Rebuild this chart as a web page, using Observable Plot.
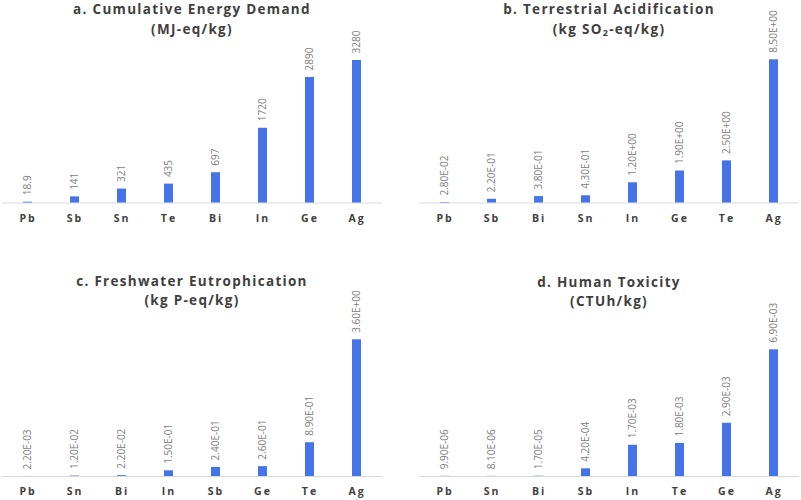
<!DOCTYPE html>
<html><head><meta charset="utf-8">
<script src="https://cdn.jsdelivr.net/npm/d3@7"></script>
<script src="https://cdn.jsdelivr.net/npm/@observablehq/plot@0.6"></script>
<style>
body{margin:0;background:#fff;}
#chart{position:relative;width:801px;height:500px;background:#fff;font-family:"Open Sans",sans-serif;overflow:hidden;}
.panel{position:absolute;width:384px;height:250px;}
.panel svg{position:absolute;left:0;top:0;}
.title{position:absolute;left:0;width:100%;text-align:center;font-weight:700;font-size:13.5px;letter-spacing:1.3px;color:#404040;line-height:19px;white-space:nowrap;}
.title sub{font-size:9px;vertical-align:-2px;line-height:0;}
g[aria-label="x-axis tick label"] text{letter-spacing:2px;font-weight:700;}
</style></head><body><div id="chart"></div>
<script>
// Panel a: Cumulative Energy Demand (MJ-eq/kg)
const catsA = ["Pb", "Sb", "Sn", "Te", "Bi", "In", "Ge", "Ag"];
const valuesA = [18.9, 141, 321, 435, 697, 1720, 2890, 3280];
// Panel b: Terrestrial Acidification (kg SO2-eq/kg)
const catsB = ["Pb", "Sb", "Bi", "Sn", "In", "Ge", "Te", "Ag"];
const valuesB = [0.028, 0.22, 0.38, 0.43, 1.2, 1.9, 2.5, 8.5];
// Panel c: Freshwater Eutrophication (kg P-eq/kg)
const catsC = ["Pb", "Sn", "Bi", "In", "Sb", "Ge", "Te", "Ag"];
const valuesC = [0.0022, 0.012, 0.022, 0.15, 0.24, 0.26, 0.89, 3.6];
// Panel d: Human Toxicity (CTUh/kg)
const catsD = ["Pb", "Sn", "Bi", "Sb", "In", "Te", "Ge", "Ag"];
const valuesD = [9.9e-6, 8.1e-6, 1.7e-5, 4.2e-4, 1.7e-3, 1.8e-3, 2.9e-3, 6.9e-3];

const titlesL1 = ["a. Cumulative Energy Demand", "b. Terrestrial Acidification", "c. Freshwater Eutrophication", "d. Human Toxicity"];
const titlesL2 = ["(MJ-eq/kg)", "(kg SO<sub>2</sub>-eq/kg)", "(kg P-eq/kg)", "(CTUh/kg)"];

const plain = v => String(v);
const sci = v => {
  const [m, e] = v.toExponential(2).toUpperCase().split("E");
  const n = +e;
  return m + "E" + (n < 0 ? "-" : "+") + String(Math.abs(n)).padStart(2, "0");
};

// layout per panel (positions only)
const panels = [
  {cats: catsA, values: valuesA, fmt: plain, left: 0,   top: 0,   mt: 60,   mb: 47.5, tTop: 0},
  {cats: catsB, values: valuesB, fmt: sci,   left: 417, top: 0,   mt: 59.3, mb: 47.5, tTop: 0},
  {cats: catsC, values: valuesC, fmt: sci,   left: 0,   top: 250, mt: 89.3, mb: 24,   tTop: 21.5},
  {cats: catsD, values: valuesD, fmt: sci,   left: 417, top: 250, mt: 99.3, mb: 24,   tTop: 22.7}
];

const chart = document.getElementById("chart");
panels.forEach((p, k) => {
  const data = p.cats.map((c, i) => ({cat: c, value: p.values[i], label: p.fmt(p.values[i])}));
  const svg = Plot.plot({
    width: 384, height: 250,
    marginLeft: 2, marginRight: 2, marginTop: p.mt, marginBottom: p.mb,
    style: {fontFamily: '"Open Sans", sans-serif', background: "transparent", overflow: "visible"},
    x: {domain: p.cats, paddingInner: 0.81, paddingOuter: 0.405, label: null, axis: null},
    y: {domain: [0, d3.max(p.values)], axis: null},
    marks: [
      Plot.ruleY([0], {stroke: "#d9d9d9", strokeWidth: 1}),
      Plot.barY(data, {x: "cat", y: "value", fill: "#4574e8"}),
      Plot.text(data, {x: "cat", y: "value", text: "label", rotate: -90, textAnchor: "start", dy: -7, fill: "#808080", fontSize: 10}),
      Plot.axisX({tickSize: 0, tickPadding: 11.5, fontSize: 10.5, fontWeight: "bold", fill: "#404040", label: null})
    ]
  });
  const div = document.createElement("div");
  div.className = "panel";
  div.style.left = p.left + "px";
  div.style.top = p.top + "px";
  div.appendChild(svg);
  [titlesL1[k], titlesL2[k]].forEach((txt, j) => {
    const t = document.createElement("div");
    t.className = "title";
    t.style.top = (p.tTop + j * 19.7) + "px";
    t.innerHTML = txt;
    div.appendChild(t);
  });
  chart.appendChild(div);
});
</script>
</body></html>
